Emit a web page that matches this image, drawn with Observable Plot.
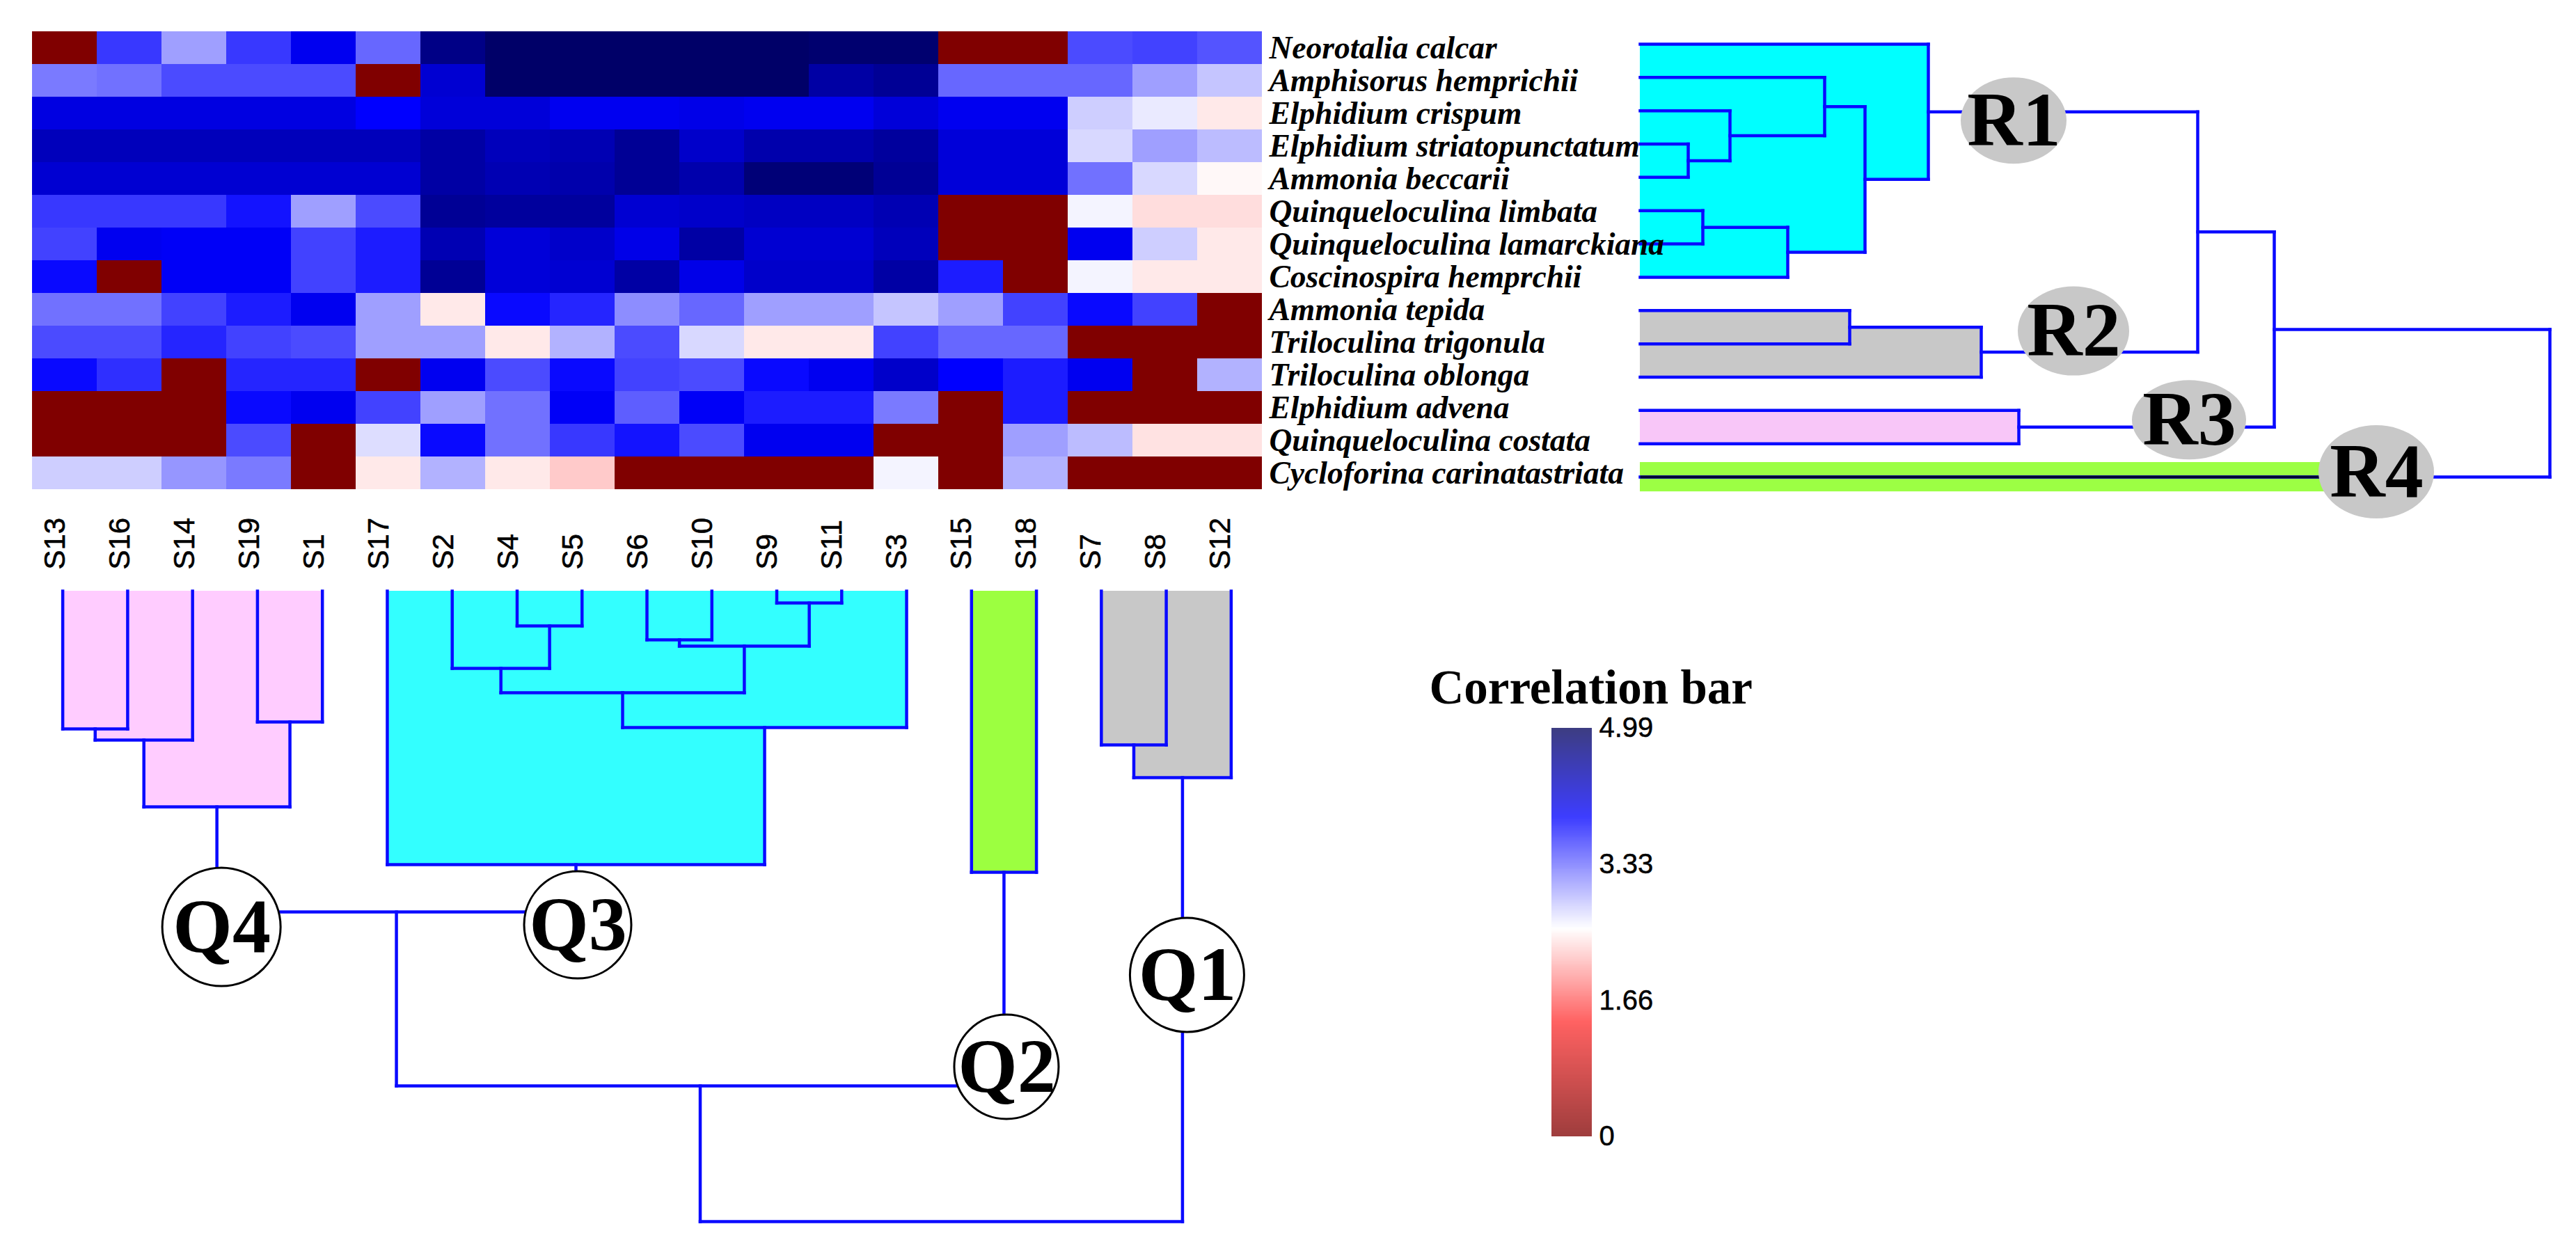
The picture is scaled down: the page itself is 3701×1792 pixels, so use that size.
<!DOCTYPE html>
<html><head><meta charset="utf-8">
<script src="https://cdn.jsdelivr.net/npm/d3@7"></script>
<script src="https://cdn.jsdelivr.net/npm/@observablehq/plot@0.6"></script>
<style>
html,body{margin:0;padding:0;background:#fff;}
#fig{position:relative;width:3701px;height:1792px;background:#fff;overflow:hidden}
#fig svg{position:absolute;left:0;top:0;}
</style></head><body><div id="fig"></div>
<script>
// ---------------- DATA ----------------
const samples = ["S13","S16","S14","S19","S1","S17","S2","S4","S5","S6","S10","S9","S11","S3","S15","S18","S7","S8","S12"];
const species = ["Neorotalia calcar","Amphisorus hemprichii","Elphidium crispum","Elphidium striatopunctatum","Ammonia beccarii","Quinqueloculina limbata","Quinqueloculina lamarckiana","Coscinospira hemprchii","Ammonia tepida","Triloculina trigonula","Triloculina oblonga","Elphidium advena","Quinqueloculina costata","Cycloforina carinatastriata"];
// rows = species, columns = samples
const values = [
 [0,3.6,3.05,3.6,4.0,3.35,4.7,4.9,4.9,4.9,4.9,4.9,4.85,4.85,0,0,3.5,3.55,3.45],
 [3.25,3.3,3.5,3.5,3.5,0,4.2,4.9,4.9,4.9,4.9,4.9,4.5,4.6,3.35,3.35,3.35,3.05,2.85],
 [4.1,4.1,4.1,4.1,4.1,3.9,4.15,4.15,4.0,4.0,4.05,4.0,4.0,4.15,4.0,4.0,2.8,2.65,2.42],
 [4.35,4.35,4.35,4.35,4.35,4.35,4.5,4.35,4.4,4.6,4.25,4.45,4.45,4.55,4.15,4.15,2.75,3.05,2.9],
 [4.2,4.2,4.2,4.2,4.2,4.2,4.5,4.4,4.45,4.6,4.45,4.8,4.8,4.6,4.15,4.15,3.3,2.75,2.5],
 [3.6,3.6,3.6,3.8,3.05,3.5,4.6,4.55,4.55,4.2,4.25,4.3,4.3,4.4,0,0,2.6,2.35,2.35],
 [3.55,4.0,3.95,3.95,3.55,3.75,4.4,4.15,4.25,4.05,4.5,4.2,4.2,4.35,0,0,4.0,2.8,2.42],
 [3.85,0,3.95,3.95,3.55,3.75,4.6,4.15,4.2,4.5,4.05,4.25,4.25,4.5,3.75,0,2.6,2.42,2.42],
 [3.3,3.3,3.55,3.75,4.0,3.05,2.42,3.85,3.7,3.15,3.35,3.05,3.05,2.85,3.05,3.55,3.85,3.55,0],
 [3.5,3.5,3.7,3.55,3.5,3.05,3.05,2.42,2.95,3.5,2.75,2.42,2.42,3.55,3.35,3.35,0,0,0],
 [3.85,3.65,0,3.7,3.7,0,4.0,3.5,3.85,3.55,3.5,3.85,4.0,4.25,3.9,3.75,4.0,0,2.95],
 [0,0,0,3.85,4.0,3.55,3.05,3.3,3.95,3.4,3.95,3.75,3.75,3.25,0,3.75,0,0,0],
 [0,0,0,3.5,0,2.72,3.85,3.3,3.6,3.8,3.5,4.0,4.0,0,0,3.05,2.9,2.38,2.38],
 [2.8,2.8,3.1,3.25,0,2.42,2.95,2.42,2.25,0,0,0,0,2.6,0,2.95,0,0,0]
];
// species (row) clustering: merges with linkage distance
const speciesMerges = [
  {id:"r1", a:"Elphidium striatopunctatum", b:"Ammonia beccarii", h:6.9},
  {id:"r2", a:"Elphidium crispum", b:"r1", h:12.9},
  {id:"r3", a:"Amphisorus hemprichii", b:"r2", h:26.5},
  {id:"r4", a:"Quinqueloculina limbata", b:"Quinqueloculina lamarckiana", h:9.0},
  {id:"r5", a:"r4", b:"Coscinospira hemprchii", h:21.2},
  {id:"r6", a:"r3", b:"r5", h:32.3},
  {id:"R1", a:"Neorotalia calcar", b:"r6", h:41.4},
  {id:"r7", a:"Ammonia tepida", b:"Triloculina trigonula", h:30.1},
  {id:"R2", a:"r7", b:"Triloculina oblonga", h:49.0},
  {id:"R3", a:"Elphidium advena", b:"Quinqueloculina costata", h:54.4},
  {id:"r8", a:"R1", b:"R2", h:80.1},
  {id:"r9", a:"r8", b:"R3", h:91.1},
  {id:"r10", a:"r9", b:"Cycloforina carinatastriata", h:130.7}
];
const speciesClusters = [
  {label:"R1", node:"R1", at:53.7},
  {label:"R2", node:"R2", at:62.3},
  {label:"R3", node:"R3", at:78.9},
  {label:"R4", node:"Cycloforina carinatastriata", at:105.8}
];
// sample (column) clustering
const sampleMerges = [
  {id:"q1", a:"S13", b:"S16", h:19.8},
  {id:"q2", a:"q1", b:"S14", h:21.4},
  {id:"q3", a:"S19", b:"S1", h:18.8},
  {id:"Q4", a:"q2", b:"q3", h:31.0},
  {id:"q4", a:"S4", b:"S5", h:5.0},
  {id:"q5", a:"S2", b:"q4", h:11.1},
  {id:"q6", a:"S6", b:"S10", h:7.0},
  {id:"q7", a:"S9", b:"S11", h:1.7},
  {id:"q8", a:"q6", b:"q7", h:7.9},
  {id:"q9", a:"q5", b:"q8", h:14.6},
  {id:"q10", a:"q9", b:"S3", h:19.6},
  {id:"Q3", a:"S17", b:"q10", h:39.3},
  {id:"Q2", a:"S15", b:"S18", h:40.4},
  {id:"q11", a:"S7", b:"S8", h:22.1},
  {id:"Q1", a:"q11", b:"S12", h:26.8},
  {id:"q12", a:"Q4", b:"Q3", h:46.1},
  {id:"q13", a:"q12", b:"Q2", h:71.1},
  {id:"q14", a:"q13", b:"Q1", h:90.6}
];
const sampleClusters = [
  {label:"Q4", node:"Q4", at:48.3},
  {label:"Q3", node:"Q3", at:48.0},
  {label:"Q2", node:"Q2", at:68.4},
  {label:"Q1", node:"Q1", at:55.2}
];
const colorTicks = [0, 1.66, 3.33, 4.99];
const colorTickLabels = ["0", "1.66", "3.33", "4.99"];
const legendTitle = "Correlation bar";

// ---------------- STYLE ----------------
const W = 3701, H = 1792;
const SERIF = "'Liberation Serif', 'Times New Roman', 'DejaVu Serif', serif";
const SANS = "'Liberation Sans', Arial, 'DejaVu Sans', sans-serif";
const LINE = "#0a0aff";
const colorScale = {type:"linear", domain:[0,1.4,2.54,3.9,4.99], range:["#800000","#ff3030","#ffffff","#0000ff","#00005a"], interpolate:"rgb"};
const clusterStyle = {
  R1:{fill:"#00ffff", rx:76, ry:62, dx:0, dy:13},
  R2:{fill:"#c8c8c8", rx:80, ry:64, dx:0, dy:-30},
  R3:{fill:"#f8c6f8", rx:82, ry:57, dx:0, dy:-10},
  R4:{fill:"#9cff44", rx:83, ry:67, dx:0, dy:-7},
  Q4:{fill:"#ffccff", rx:85, ry:85, dx:7, dy:0},
  Q3:{fill:"#33ffff", rx:77, ry:77, dx:3, dy:0},
  Q2:{fill:"#9cff40", rx:75, ry:75, dx:4, dy:0},
  Q1:{fill:"#c8c8c8", rx:82, ry:82, dx:7, dy:0}
};
const svgStyle = {position:"absolute", left:"0px", top:"0px", background:"transparent", overflow:"visible"};

// ---------------- helpers ----------------
function layout(order, merges, clusters) {
  const pos = new Map(order.map((n,i)=>[n,i]));
  const ht = new Map(order.map(n=>[n,0]));
  const kids = new Map();
  const segs = [];
  for (const m of merges) {
    const pa = pos.get(m.a), pb = pos.get(m.b);
    segs.push({p1:pa, h1:ht.get(m.a), p2:pa, h2:m.h});
    segs.push({p1:pb, h1:ht.get(m.b), p2:pb, h2:m.h});
    segs.push({p1:pa, h1:m.h, p2:pb, h2:m.h});
    pos.set(m.id, (pa+pb)/2); ht.set(m.id, m.h); kids.set(m.id, m);
  }
  const fills = [], dark = [];
  for (const c of clusters) {
    const st = clusterStyle[c.label];
    if (!kids.has(c.node)) {
      const p = pos.get(c.node);
      fills.push({p1:p-0.44, p2:p+0.44, h1:0, h2:c.at, fill:st.fill});
      dark.push({p1:p, p2:p, h1:0, h2:c.at});
      continue;
    }
    const stack = [c.node];
    while (stack.length) {
      const m = kids.get(stack.pop());
      if (!m) continue;
      fills.push({p1:pos.get(m.a), p2:pos.get(m.b), h1:0, h2:m.h, fill:st.fill});
      stack.push(m.a, m.b);
    }
  }
  const labels = clusters.map(c => ({...c, p: pos.get(c.node)}));
  return {segs, fills, dark, labels};
}

function ellipseMark(data, {x, y, fill, stroke = "none", strokeWidth = 0}) {
  return Plot.dot(data, {x, y, r: 1, render(index, scales, values) {
    const g = d3.create("svg:g");
    for (const i of index) {
      const st = clusterStyle[data[i].label];
      g.append("ellipse")
        .attr("cx", values.x[i] + st.dx).attr("cy", values.y[i] + st.dy)
        .attr("rx", st.rx).attr("ry", st.ry)
        .attr("fill", fill).attr("stroke", stroke).attr("stroke-width", strokeWidth);
    }
    return g.node();
  }});
}
function labelTexts(labels, x, y) {
  return labels.map(c => Plot.text([c], {x, y, text:"label", dx: clusterStyle[c.label].dx, dy: clusterStyle[c.label].dy,
    fontFamily: SERIF, fontWeight:"bold", fontSize:110, fill:"#000"}));
}

const fig = document.getElementById("fig");
const cells = species.flatMap((s, i) => samples.map((t, j) => ({species: s, sample: t, value: values[i][j]})));

// ---------------- species dendrogram (right) ----------------
const R = layout(species, speciesMerges, speciesClusters);
fig.appendChild(Plot.plot({
  width: W, height: H, marginLeft: 2356, marginRight: W - 3663, marginTop: 39, marginBottom: H - 709,
  style: svgStyle,
  x: {domain: [0, 130.7], axis: null},
  y: {domain: [13.5, -0.5], axis: null},
  color: {type: "identity"},
  marks: [
    Plot.rect(R.fills, {x1:"h1", x2:"h2", y1:"p1", y2:"p2", fill:"fill"}),
    Plot.link(R.segs, {x1:"h1", y1:"p1", x2:"h2", y2:"p2", stroke: LINE, strokeWidth: 4.5, strokeLinecap:"square"}),
    Plot.link(R.dark, {x1:"h1", y1:"p1", x2:"h2", y2:"p2", stroke: "#000033", strokeWidth: 4}),
    ellipseMark(R.labels, {x:"at", y:"p", fill:"#c8c8c8"}),
    ...labelTexts(R.labels, "at", "p")
  ]
}));

// ---------------- sample dendrogram (bottom) ----------------
const Q = layout(samples, sampleMerges, sampleClusters);
fig.appendChild(Plot.plot({
  width: W, height: H, marginLeft: 43, marginRight: W - 1815, marginTop: 849, marginBottom: H - 1755,
  style: svgStyle,
  x: {domain: [-0.5, 18.5], axis: null},
  y: {domain: [0, 90.6], reverse: true, axis: null},
  color: {type: "identity"},
  marks: [
    Plot.rect(Q.fills, {x1:"p1", x2:"p2", y1:"h1", y2:"h2", fill:"fill"}),
    Plot.link(Q.segs, {x1:"p1", y1:"h1", x2:"p2", y2:"h2", stroke: LINE, strokeWidth: 4.5, strokeLinecap:"square"}),
    ellipseMark(Q.labels, {x:"p", y:"at", fill:"#fff", stroke:"#000", strokeWidth: 3}),
    ...labelTexts(Q.labels, "p", "at")
  ]
}));

// ---------------- colour bar ----------------
const nSteps = 300;
const step = 4.99 / nSteps;
const gradient = d3.range(nSteps).map(i => i * step);
fig.appendChild(Plot.plot({
  width: W, height: H, marginLeft: 2229, marginRight: W - 2287, marginTop: 1046, marginBottom: H - 1633,
  style: svgStyle,
  x: {domain: [0, 1], axis: null},
  y: {domain: [0, 4.99], axis: null},
  color: colorScale,
  marks: [
    Plot.rect(gradient, {x1: 0, x2: 1, y1: d => d, y2: d => d + step, fill: d => d + step / 2, fillOpacity: 0.76, shapeRendering:"crispEdges"}),
    Plot.text(colorTicks, {y: d => d, text: (d, i) => colorTickLabels[i], frameAnchor:"right", dx: 10, textAnchor:"start", fontFamily: SANS, fontSize: 40, fill:"#000", stroke:"#000", strokeWidth: 0.5}),
    Plot.text([legendTitle], {frameAnchor:"top-left", dx: -176, dy: -85, textAnchor:"start", fontFamily: SERIF, fontWeight:"bold", fontSize: 69, fill:"#000"})
  ]
}));

// ---------------- heatmap (drawn last so its labels sit on top) ----------------
fig.appendChild(Plot.plot({
  width: W, height: H, marginLeft: 43, marginRight: W - 1815, marginTop: 39, marginBottom: H - 709,
  style: svgStyle,
  x: {type:"band", domain: samples, padding: 0, axis: null},
  y: {type:"band", domain: species, padding: 0, axis: null},
  color: colorScale,
  marks: [
    Plot.cell(cells, {x:"sample", y:"species", fill:"value", inset: 0, shapeRendering:"crispEdges"}),
    Plot.text(species, {y: d => d, frameAnchor:"right", dx: 8, textAnchor:"start", fontFamily: SERIF, fontStyle:"italic", fontWeight:"bold", fontSize: 45.5, fill:"#000"}),
    Plot.text(samples, {x: d => d, frameAnchor:"bottom", dy: 109, rotate: -90, textAnchor:"start", fontFamily: SANS, fontSize: 42, fill:"#000", stroke:"#000", strokeWidth: 0.6})
  ]
}));
</script></body></html>
